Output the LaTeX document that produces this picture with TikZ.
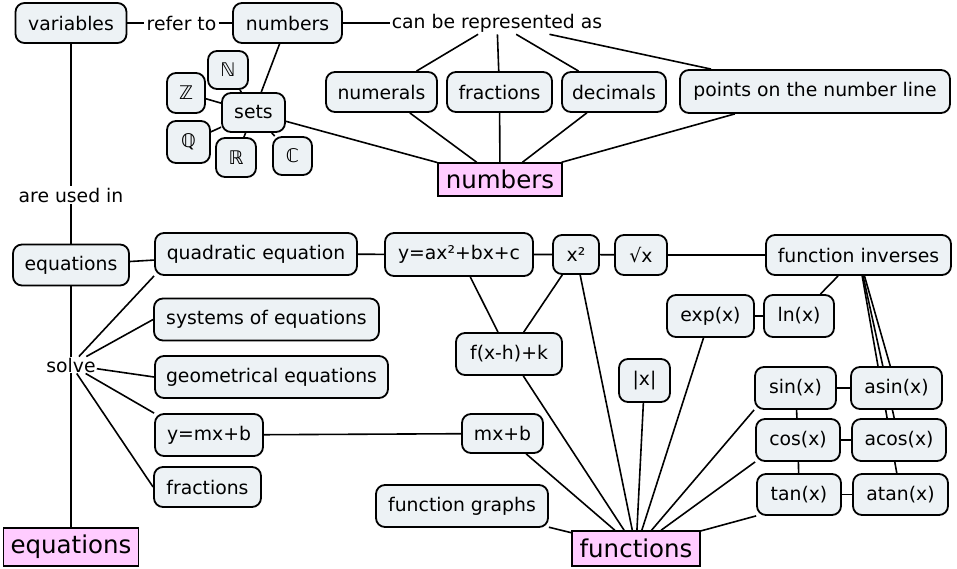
\documentclass[tikz,border=0pt]{standalone}
\usepackage{fontspec}
\setmainfont{DejaVu Sans}
\usetikzlibrary{backgrounds}
\definecolor{boxfill}{RGB}{237,242,245}
\definecolor{pinkfill}{RGB}{255,204,255}
\begin{document}
\begin{tikzpicture}[x=1pt,y=-1pt,
  cbox/.style={draw=black, line width=1.8pt, rounded corners=9pt, fill=boxfill, inner sep=0pt, font=\fontsize{18.8}{22}\selectfont},
  pbox/.style={draw=black, line width=1.5pt, fill=pinkfill, inner sep=0pt, font=\fontsize{24.5}{28}\selectfont},
  lbl/.style={inner sep=2pt, font=\fontsize{18.8}{22}\selectfont},
  sz/.style 2 args={minimum width=#1pt, minimum height=#2pt},
  conn/.style={draw=black, line width=1.6pt}]
\useasboundingbox (0,0) rectangle (957,568);
% top area
\node[cbox,sz={111}{40}] (variables) at (71,23) {variables};
\node[lbl] (referto) at (181.5,23) {refer to};
\node[cbox,sz={109}{40}] (numbersT) at (287.5,23) {numbers};
\node[lbl] (canbe) at (497,23) {can be represented as};
\node[cbox,sz={111}{40}] (numerals) at (381.5,92) {numerals};
\node[cbox,sz={105}{40}] (fractionsT) at (499.5,92) {fractions};
\node[cbox,sz={104}{40}] (decimals) at (614,92) {decimals};
\node[cbox,sz={270}{43}] (points) at (815,91.5) {points on the number line};
\node[pbox,sz={124}{33}] (numbersP) at (500,179.5) {numbers};
\node[cbox,sz={40}{38}] (setN) at (228,70) {ℕ};
\node[cbox,sz={38}{40}] (setZ) at (186,93) {ℤ};
\node[cbox,sz={63}{39}] (sets) at (253.5,112.5) {sets};
\node[cbox,sz={43}{42}] (setQ) at (188.5,142) {ℚ};
\node[cbox,sz={40}{39}] (setR) at (236,157.5) {ℝ};
\node[cbox,sz={39}{38}] (setC) at (292.5,156) {ℂ};
% left column
\node[lbl] (areused) at (71,195) {are used in};
\node[cbox,sz={116}{41}] (equations) at (71,265) {equations};
\node[lbl,inner sep=1pt] (solve) at (71,365) {solve};
\node[pbox,sz={135}{38}] (equationsP) at (71,547) {equations};
\node[cbox,sz={202}{42}] (quadratic) at (256,254) {quadratic equation};
\node[cbox,sz={225}{42}] (systems) at (266.5,319.5) {systems of equations};
\node[cbox,sz={233}{42}] (geometrical) at (271.5,377) {geometrical equations};
\node[cbox,sz={108}{42}] (ymx) at (209,435) {y=mx+b};
\node[cbox,sz={107}{40}] (fractionsL) at (207.5,487) {fractions};
% functions area
\node[cbox,sz={148}{43}] (yax) at (459,254.5) {y=ax²+bx+c};
\node[cbox,sz={46}{39}] (xsq) at (576,254.5) {x²};
\node[cbox,sz={52}{40}] (sqrtx) at (641,255) {√x};
\node[cbox,sz={185}{40}] (finv) at (858.5,255) {function inverses};
\node[cbox,sz={106}{42}] (fxh) at (509,354) {f(x-h)+k};
\node[cbox,sz={51}{43}] (absx) at (644.5,380.5) {|x|};
\node[cbox,sz={87}{42}] (expx) at (710.5,316) {exp(x)};
\node[cbox,sz={70}{42}] (lnx) at (799,316) {ln(x)};
\node[cbox,sz={81}{42}] (sinx) at (795.5,388) {sin(x)};
\node[cbox,sz={91}{42}] (asinx) at (896.5,388) {asin(x)};
\node[cbox,sz={84}{42}] (cosx) at (798,440) {cos(x)};
\node[cbox,sz={94}{42}] (acosx) at (899,440) {acos(x)};
\node[cbox,sz={84}{41}] (tanx) at (799,494.5) {tan(x)};
\node[cbox,sz={95}{41}] (atanx) at (900.5,494.5) {atan(x)};
\node[cbox,sz={81}{39}] (mxb) at (502.5,433.5) {mx+b};
\node[cbox,sz={172}{42}] (fgraphs) at (462,506) {function graphs};
\node[pbox,sz={128}{35}] (functionsP) at (636,548.5) {functions};
\begin{scope}[on background layer]
  \draw[conn] (variables) -- (referto) -- (numbersT) -- (canbe);
  \foreach \n in {numerals,fractionsT,decimals,points} {
    \draw[conn] (canbe) -- (\n);
    \draw[conn] (\n) -- (numbersP);
  }
  \draw[conn] (numbersT) -- (sets);
  \foreach \n in {setN,setZ,setQ,setR,setC} \draw[conn] (sets) -- (\n);
  \draw[conn] (sets) -- (numbersP);
  \draw[conn] (variables) -- (areused) -- (equations) -- (solve) -- (equationsP);
  \draw[conn] (equations) -- (quadratic);
  \draw[conn] (solve) -- (quadratic.south west);
  \draw[conn] (solve) -- (systems.west);
  \draw[conn] (solve) -- (geometrical.west);
  \draw[conn] (solve) -- (ymx.north west);
  \draw[conn] (solve) -- (fractionsL.west);
  \draw[conn] (quadratic) -- (yax) -- (xsq) -- (sqrtx) -- (finv);
  \draw[conn] (yax) -- (fxh);
  \draw[conn] (xsq) -- (fxh);
  \draw[conn] (ymx) -- (mxb);
  \draw[conn] (finv) -- (lnx);
  \draw[conn] (expx) -- (lnx);
  \draw[conn] (finv) -- (asinx);
  \draw[conn] (finv) -- (acosx);
  \draw[conn] (finv) -- (atanx);
  \draw[conn] (sinx) -- (asinx);
  \draw[conn] (cosx) -- (acosx);
  \draw[conn] (tanx) -- (atanx);
  \draw[conn] (sinx) -- (cosx);
  \draw[conn] (cosx) -- (tanx);
  \foreach \n in {fgraphs,mxb,fxh,xsq,absx,expx} \draw[conn] (\n) -- (functionsP);
  \draw[conn] (sinx.south west) -- (functionsP);
  \draw[conn] (cosx.south west) -- (functionsP);
  \draw[conn] (tanx.south west) -- (functionsP);
\end{scope}
\end{tikzpicture}
\end{document}
